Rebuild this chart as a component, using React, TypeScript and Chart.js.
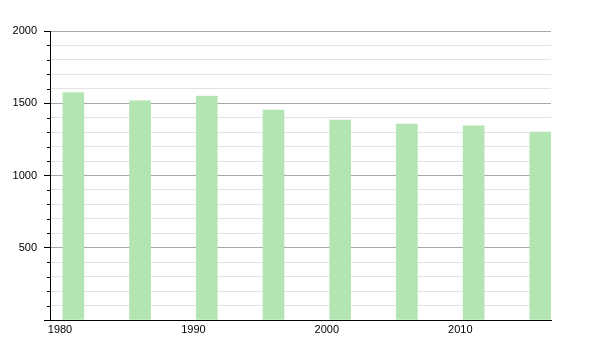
import React, { useEffect, useRef } from "react";
import { Chart, registerables } from "chart.js";

Chart.register(...registerables);

const years = [1981, 1986, 1991, 1996, 2001, 2006, 2011, 2016];
const population = [1573, 1516, 1550, 1453, 1384, 1356, 1343, 1301];
const xTickYears = [1980, 1990, 2000, 2010];
const yTickValues = [500, 1000, 1500, 2000];

const minorTicks = {
  id: "minorTicks",
  afterDraw(chart: any) {
    const y = chart.scales.y;
    const ctx = chart.ctx;
    ctx.save();
    ctx.strokeStyle = "#000";
    ctx.lineWidth = 1;
    for (let v = 100; v < 2000; v += 100) {
      if (v % 500 === 0) continue;
      const py = Math.round(y.getPixelForValue(v)) + 0.5;
      ctx.beginPath();
      ctx.moveTo(y.right - 3, py);
      ctx.lineTo(y.right, py);
      ctx.stroke();
    }
    ctx.restore();
  },
};

export default function App() {
  const ref = useRef<HTMLCanvasElement>(null);
  useEffect(() => {
    if (!ref.current) return;
    const chart = new Chart(ref.current, {
      type: "bar",
      data: {
        datasets: [
          {
            data: years.map((yr, i) => ({ x: yr, y: population[i] })),
            backgroundColor: "#b2e5b2",
            borderWidth: 0,
            barThickness: 21,
          },
        ],
      },
      options: {
        animation: false,
        responsive: true,
        maintainAspectRatio: false,
        layout: { padding: { top: 31, right: 49, left: 0, bottom: 0 } },
        plugins: { legend: { display: false }, tooltip: { enabled: false } },
        scales: {
          x: {
            type: "linear",
            min: 1979.25,
            max: 2016.8,
            offset: false,
            afterBuildTicks: (s: any) => {
              s.ticks = xTickYears.map((v) => ({ value: v }));
            },
            afterFit: (s: any) => {
              s.height = 30;
            },
            grid: { display: false, offset: false, drawTicks: false },
            border: { display: true, color: "#000", width: 1 },
            ticks: {
              padding: 3,
              maxRotation: 0,
              autoSkip: false,
              color: "#000",
              font: { family: "Liberation Sans", size: 11 },
              callback: (v: any) => String(v),
            },
          },
          y: {
            min: 0,
            max: 2000,
            afterFit: (s: any) => {
              s.width = 50;
            },
            ticks: {
              stepSize: 100,
              maxTicksLimit: 50,
              autoSkip: false,
              padding: 7,
              color: "#000",
              font: { family: "Liberation Sans", size: 11 },
              callback: (v: any) => (yTickValues.includes(v) ? String(v) : ""),
            },
            grid: {
              color: (c: any) =>
                c.tick && c.tick.value % 500 === 0 ? "#a8a8a8" : "#e2e2e2",
              tickColor: (c: any) =>
                c.tick && c.tick.value % 500 === 0 ? "#000" : "rgba(0,0,0,0)",
              tickLength: 6,
            },
            border: { display: true, color: "#000", width: 1 },
          },
        },
      },
      plugins: [minorTicks],
    } as any);
    return () => chart.destroy();
  }, []);
  return (
    <div style={{ position: "absolute", left: 0, top: 0, width: 600, height: 350, background: "#fff" }}>
      <canvas ref={ref} />
    </div>
  );
}
